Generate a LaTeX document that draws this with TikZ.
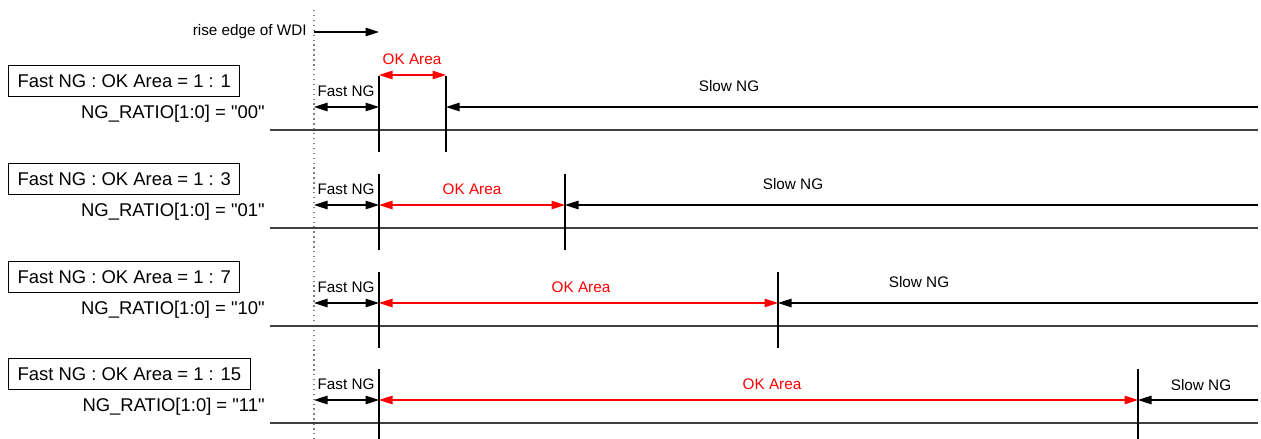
\documentclass[tikz,border=0pt]{standalone}
\usepackage{fontspec}
\setmainfont{Liberation Sans}[Ligatures=TeXOff]
\usetikzlibrary{arrows.meta,positioning}

\begin{document}
\begin{tikzpicture}[x=0.02cm,y=-0.02cm,
  font=\fontsize{8.7}{10}\selectfont,
  ratiobox/.style={rectangle,draw,line width=0.6pt,inner xsep=0.18cm,inner ysep=0pt,
                   minimum height=0.62cm,font=\fontsize{10.5}{12}\selectfont},
  codetext/.style={anchor=east,inner sep=0pt,font=\fontsize{10.5}{12}\selectfont},
  lbl/.style={inner sep=0pt},
  arr/.style={{Triangle[length=2.7mm,width=1.7mm]}-{Triangle[length=2.7mm,width=1.7mm]},line width=0.6pt},
  sarr/.style={-{Triangle[length=2.7mm,width=1.7mm]},line width=0.6pt},
  edge/.style={line width=0.6pt},
  base/.style={line width=0.6pt,black!75}]
\useasboundingbox (0,0) rectangle (1261,439);
\draw[gray,dotted,line width=0.8pt] (314,10) -- (314,439);
\node[lbl,anchor=east] (rise) at (307,32) {rise edge of WDI};
\coordinate (wdi) at (314,32);
\coordinate (wdiend) at (379,32);
\draw[sarr] (wdi) -- (wdiend);
\foreach \i/\y/\e/\r/\c/\k/\s/\sy/\o/\b in {1/107/446/1/00/412/729/21/-32/152,
    2/205/565/3/01/472/793/21/0/250, 3/303/778/7/10/581/919/21/0/348,
    4/400/1138/15/11/772/1201/15/0/439}{
  \node[ratiobox,anchor=west] (box\i) at (8,\y-26) {Fast NG : OK Area = 1 : \r};
  \node[codetext] (code\i) at (265,\y+7) {NG\_RATIO[1:0] = "\c"};
  \draw[base] (270,\y+23) -- (1258,\y+23);
  \draw[edge] (379,\y-31) -- (379,\b);
  \draw[edge] (\e,\y-31) -- (\e,\b);
  \coordinate (l\i) at (314,\y);
  \coordinate (f\i) at (379,\y);
  \coordinate (e\i) at (\e,\y);
  \coordinate (r\i) at (1258,\y);
  \coordinate (oa\i) at (379,\y+\o);
  \coordinate (ob\i) at (\e,\y+\o);
  \draw[arr] (l\i) -- (f\i);
  \draw[arr,red] (oa\i) -- (ob\i);
  \draw[sarr] (r\i) -- (e\i);
  \node[lbl] (fast\i) at (346,\y-16) {Fast NG};
  \node[lbl,red] (ok\i) at (\k,\y+\o-16) {OK Area};
  \node[lbl] (slow\i) at (\s,\y-\sy) {Slow NG};
}
\end{tikzpicture}
\end{document}
